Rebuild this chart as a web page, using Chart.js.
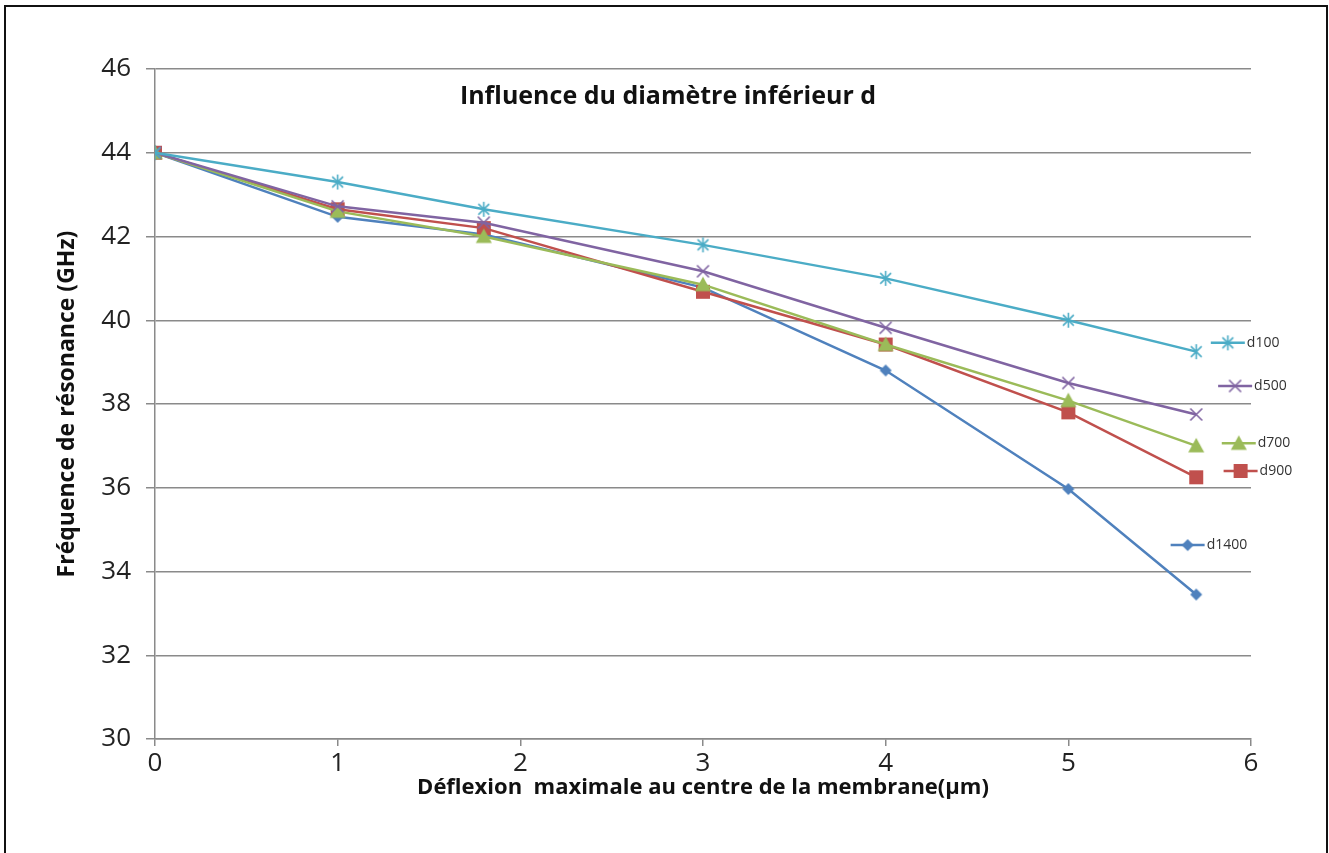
<!DOCTYPE html>
<html>
<head>
<meta charset="utf-8">
<title>Influence du diamètre inférieur d</title>
<script src="https://cdn.jsdelivr.net/npm/chart.js@4.4.1/dist/chart.umd.min.js"></script>
<style>
    html, body { margin: 0; padding: 0; background: #fff; }
    #frame {
        position: absolute; left: 4px; top: 5px;
        width: 1324px; height: 900px;
        border: 2px solid #111; box-sizing: border-box;
    }
    #wrap { position: absolute; left: 0; top: 0; width: 1329px; height: 853px; }
</style>
</head>
<body>
<div id="frame"></div>
<div id="wrap"><canvas id="chart" width="1329" height="853"></canvas></div>

<script>
// Déflexion au centre (µm) et fréquence de résonance (GHz) pour chaque diamètre inférieur
const deflexion = [0, 1, 1.8, 3, 4, 5, 5.7];
const d100  = [44, 43.3, 42.65, 41.8, 41.0, 40.0, 39.25];
const d500  = [44, 42.72, 42.33, 41.17, 39.82, 38.5, 37.75];
const d700  = [44, 42.6, 42.0, 40.85, 39.42, 38.08, 37.0];
const d900  = [44, 42.65, 42.2, 40.68, 39.42, 37.8, 36.25];
const d1400 = [44, 42.47, 42.05, 40.78, 38.8, 35.97, 33.45];

const seriesNames = ['d100', 'd500', 'd700', 'd900', 'd1400'];
const seriesValues = [d100, d500, d700, d900, d1400];

const yTicksMin = 30, yTicksMax = 46, yStep = 2;
const xTicksMin = 0, xTicksMax = 6, xStep = 1;

const FONT = "'Open Sans', 'Noto Sans', sans-serif";

// Style de chaque série (couleurs Office, marqueurs)
const seriesStyle = [
    { color: '#4BACC6', shape: 'star',     r: 7.5 },
    { color: '#8064A2', shape: 'cross',    r: 7.5 },
    { color: '#9BBB59', shape: 'triangle', r: 8 },
    { color: '#C0504D', shape: 'rect',     r: 7 },
    { color: '#4F81BD', shape: 'diamond',  r: 6 }
];

// Emplacement des étiquettes de série (coin gauche du trait, en unités des axes)
const keyAnchors = [
    [5.78, 39.46],
    [5.82, 38.43],
    [5.84, 37.06],
    [5.85, 36.40],
    [5.56, 34.63]
];

function makeMarker(shape, color, r) {
    const size = Math.ceil(r * 2 + 4);
    const c = document.createElement('canvas');
    c.width = size;
    c.height = size;
    const ctx = c.getContext('2d');
    const m = size / 2;
    ctx.fillStyle = color;
    ctx.strokeStyle = color;
    ctx.lineWidth = 1.6;
    ctx.beginPath();
    if (shape === 'star') {
        const d = r * 0.72;
        ctx.moveTo(m - d, m - d); ctx.lineTo(m + d, m + d);
        ctx.moveTo(m + d, m - d); ctx.lineTo(m - d, m + d);
        ctx.moveTo(m, m - r); ctx.lineTo(m, m + r);
        ctx.stroke();
    } else if (shape === 'cross') {
        const d = r * 0.8;
        ctx.moveTo(m - d, m - d); ctx.lineTo(m + d, m + d);
        ctx.moveTo(m + d, m - d); ctx.lineTo(m - d, m + d);
        ctx.stroke();
    } else if (shape === 'triangle') {
        ctx.moveTo(m, m - r);
        ctx.lineTo(m + r, m + r * 0.8);
        ctx.lineTo(m - r, m + r * 0.8);
        ctx.closePath();
        ctx.fill();
    } else if (shape === 'rect') {
        ctx.fillRect(m - r, m - r, r * 2, r * 2);
    } else {
        ctx.moveTo(m, m - r);
        ctx.lineTo(m + r, m);
        ctx.lineTo(m, m + r);
        ctx.lineTo(m - r, m);
        ctx.closePath();
        ctx.fill();
    }
    return c;
}

const markers = seriesStyle.map(s => makeMarker(s.shape, s.color, s.r));

const datasets = seriesNames.map((name, i) => ({
    label: name,
    data: deflexion.map((x, k) => ({ x: x, y: seriesValues[i][k] })),
    borderColor: seriesStyle[i].color,
    backgroundColor: seriesStyle[i].color,
    borderWidth: 2.5,
    pointStyle: markers[i],
    tension: 0
}));

// Titre dans la zone de tracé
const plotTitle = {
    id: 'plotTitle',
    afterDraw(chart) {
        const ctx = chart.ctx;
        const area = chart.chartArea;
        ctx.save();
        ctx.font = 'bold 25px ' + FONT;
        ctx.fillStyle = '#111';
        ctx.textAlign = 'center';
        ctx.textBaseline = 'middle';
        ctx.fillText('Influence du diamètre inférieur d', area.left + 513, area.top + 28);
        ctx.restore();
    }
};

// Étiquettes de série placées au bout des courbes
const seriesKeys = {
    id: 'seriesKeys',
    afterDraw(chart) {
        const ctx = chart.ctx;
        const xs = chart.scales.x;
        const ys = chart.scales.y;
        ctx.save();
        ctx.font = '14px ' + FONT;
        ctx.textBaseline = 'middle';
        ctx.textAlign = 'left';
        seriesNames.forEach((name, i) => {
            const x0 = xs.getPixelForValue(keyAnchors[i][0]);
            const y0 = ys.getPixelForValue(keyAnchors[i][1]);
            const len = 34;
            ctx.strokeStyle = seriesStyle[i].color;
            ctx.lineWidth = 2.5;
            ctx.beginPath();
            ctx.moveTo(x0, y0);
            ctx.lineTo(x0 + len, y0);
            ctx.stroke();
            const mk = markers[i];
            ctx.drawImage(mk, x0 + len / 2 - mk.width / 2, y0 - mk.height / 2);
            ctx.fillStyle = '#333';
            ctx.fillText(name, x0 + len + 2, y0);
        });
        ctx.restore();
    }
};

const gridGrey = '#8a8a8a';

new Chart(document.getElementById('chart'), {
    type: 'line',
    data: { datasets: datasets },
    options: {
        responsive: false,
        animation: false,
        layout: { padding: { top: 69, right: 78, left: 0, bottom: 0 } },
        plugins: {
            legend: { display: false },
            tooltip: { enabled: false }
        },
        scales: {
            x: {
                type: 'linear',
                min: xTicksMin,
                max: xTicksMax,
                ticks: {
                    stepSize: xStep,
                    color: '#222',
                    font: { family: FONT, size: 26 },
                    padding: 2
                },
                grid: { drawOnChartArea: false, color: gridGrey, tickLength: 7, lineWidth: 1.5 },
                border: { color: gridGrey, width: 1.5 },
                title: {
                    display: true,
                    text: 'Déflexion  maximale au centre de la membrane(µm)',
                    color: '#111',
                    font: { family: FONT, size: 22, weight: 'bold' },
                    padding: { top: 0, bottom: 52 }
                },
                afterFit(scale) { scale.height = 114; }
            },
            y: {
                min: yTicksMin,
                max: yTicksMax,
                ticks: {
                    stepSize: yStep,
                    color: '#222',
                    font: { family: FONT, size: 26 },
                    padding: 15
                },
                grid: { color: gridGrey, tickLength: 9, lineWidth: 1.5 },
                border: { color: gridGrey, width: 1.5 },
                title: {
                    display: true,
                    text: 'Fréquence de résonance (GHz)',
                    color: '#111',
                    font: { family: FONT, size: 23, weight: 'bold' },
                    padding: { top: 54, bottom: 0 }
                },
                afterFit(scale) { scale.width = 155; }
            }
        }
    },
    plugins: [plotTitle, seriesKeys]
});
</script>
</body>
</html>
